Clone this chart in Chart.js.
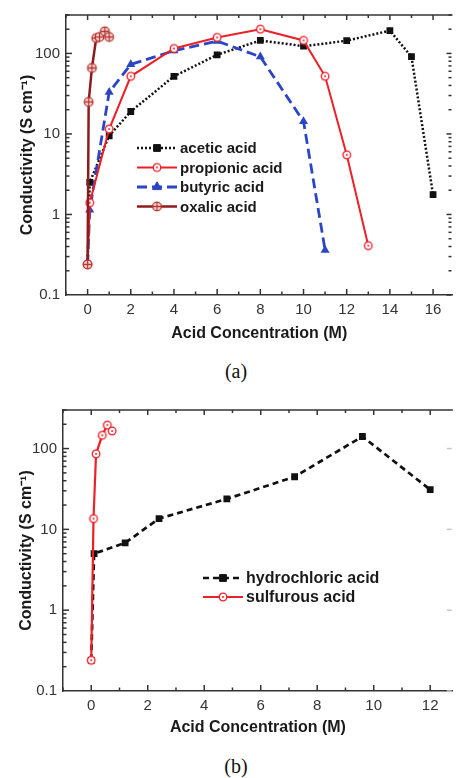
<!DOCTYPE html>
<html>
<head>
<meta charset="utf-8">
<script src="https://cdn.jsdelivr.net/npm/chart.js@4/dist/chart.umd.min.js"></script>
<style>
  html, body { margin: 0; padding: 0; background: #fff; width: 460px; height: 778px; overflow: hidden; position: relative; }
  canvas { position: absolute; left: 0; }
  #chartA { top: 0; }
  #chartB { top: 395px; }
  .cap { position: absolute; font-family: "Liberation Serif", "Times New Roman", serif; font-size: 20px; color: #111; transform: translate(-50%, -50%); }
</style>
</head>
<body>
<canvas id="chartA" width="460" height="345"></canvas>
<canvas id="chartB" width="460" height="350"></canvas>
<div class="cap" style="left:236px; top:371px;">(a)</div>
<div class="cap" style="left:236px; top:766px;">(b)</div>
<script>
// ---- (a) carboxylic / oxalic acids ----
const aceticX    = [0, 0.1, 1, 2, 4, 6, 8, 10, 12, 14, 15, 16];
const aceticY    = [0.24, 2.5, 9.5, 19, 52, 96, 145, 123, 144, 192, 91, 1.76];
const propionicX = [0, 0.1, 1, 2, 4, 6, 8, 10, 11, 12, 13];
const propionicY = [0.24, 1.4, 11.5, 52, 115, 158, 200, 145, 52, 5.5, 0.41];
const butyricX   = [0, 0.1, 1, 2, 4, 6, 8, 10, 11];
const butyricY   = [0.24, 1.14, 33, 73, 108, 142, 91, 14.3, 0.36];
const oxalicX    = [0, 0.05, 0.2, 0.4, 0.55, 0.8, 1.0];
const oxalicY    = [0.24, 25, 66, 155, 160, 188, 160];

// ---- (b) mineral acids ----
const hclX       = [0, 0.1, 1.2, 2.4, 4.8, 7.2, 9.6, 12];
const hclY       = [0.24, 5, 6.8, 13.6, 23.8, 44.8, 141, 31];
const sulfurousX = [0, 0.08, 0.17, 0.39, 0.57, 0.74];
const sulfurousY = [0.24, 13.6, 86, 146, 195, 165];

// ---- axis ticks ----
const xTicksA = [0, 2, 4, 6, 8, 10, 12, 14, 16];
const xTicksB = [0, 2, 4, 6, 8, 10, 12];
const yTicks  = [0.1, 1, 10, 100];

const FONT = '"Liberation Sans", Arial, Helvetica, sans-serif';
const RED = '#ec2027';
const BLUE = '#2b45c4';
const MAROON = '#8c1c1c';

function pts(xs, ys) { return xs.map((x, i) => ({ x: x, y: ys[i] })); }

// open circle with a centre dot, or a circle with a cross
function ringMarker(color, r, cross, fill) {
  const s = Math.ceil(r * 2 + 4);
  const c = document.createElement('canvas');
  c.width = c.height = s;
  const g = c.getContext('2d');
  const m = s / 2;
  g.fillStyle = fill || '#fff';
  g.strokeStyle = color;
  g.lineWidth = 1.3;
  g.beginPath(); g.arc(m, m, r, 0, Math.PI * 2); g.fill(); g.stroke();
  if (cross) {
    g.beginPath();
    g.moveTo(m - r, m); g.lineTo(m + r, m);
    g.moveTo(m, m - r); g.lineTo(m, m + r);
    g.stroke();
  } else {
    g.fillStyle = color;
    g.beginPath(); g.arc(m, m, 1, 0, Math.PI * 2); g.fill();
  }
  return c;
}

const redRing = ringMarker(RED, 3.8, false);
const oxRing = ringMarker('#b8342e', 4.3, true, '#f7e3e3');

// inward ticks on all sides plus the top frame line
const frameTicks = {
  id: 'frameTicks',
  afterDraw(chart, args, o) {
    const { ctx, chartArea: a, scales: { x, y } } = chart;
    ctx.save();
    ctx.strokeStyle = '#333';
    ctx.lineWidth = 1.5;
    const seg = (x1, y1, x2, y2) => { ctx.beginPath(); ctx.moveTo(x1, y1); ctx.lineTo(x2, y2); ctx.stroke(); };
    seg(a.left, a.top, a.right, a.top);
    const xt = o.xTicks;
    const step = xt[1] - xt[0];
    const xs = [];
    for (let v = xt[0] - step / 2; v <= x.max; v += step / 2) xs.push(v);
    xs.forEach(v => {
      if (v < x.min) return;
      const px = x.getPixelForValue(v);
      const major = xt.includes(v);
      const L = major ? 6 : 3.5;
      seg(px, a.bottom, px, a.bottom - L);
      seg(px, a.top, px, a.top + (major ? 5 : 3));
    });
    for (let d = 0.1; d < y.max; d *= 10) {
      for (let k = 1; k <= 9; k++) {
        const v = d * k;
        if (v < y.min || v > y.max) continue;
        const py = y.getPixelForValue(v);
        const L = k === 1 ? 6 : 3.5;
        if (!(k === 1 && Math.abs(v - y.min) < 1e-9)) seg(a.left, py, a.left + L, py);
        if (o.rightMinor || k === 1) {
          ctx.strokeStyle = o.rightColor;
          seg(a.right - 1, py, a.right - 1 - (k === 1 ? 5 : 3), py);
          ctx.strokeStyle = '#333';
        }
      }
    }
    ctx.restore();
  }
};

// legend: line sample with marker, then label
const lineLegend = {
  id: 'lineLegend',
  afterDraw(chart, args, o) {
    const ctx = chart.ctx;
    ctx.save();
    chart.data.datasets.forEach((ds, i) => {
      const yy = o.y + i * o.gap;
      ctx.strokeStyle = ds.borderColor;
      ctx.lineWidth = ds.borderWidth;
      ctx.setLineDash(ds.borderDash || []);
      ctx.beginPath(); ctx.moveTo(o.x, yy); ctx.lineTo(o.x + o.len, yy); ctx.stroke();
      ctx.setLineDash([]);
      const cx = o.x + o.len / 2;
      if (ds.pointStyle instanceof HTMLCanvasElement) {
        ctx.drawImage(ds.pointStyle, cx - ds.pointStyle.width / 2, yy - ds.pointStyle.height / 2);
      } else {
        ctx.fillStyle = ds.pointBackgroundColor;
        ctx.strokeStyle = ds.pointBorderColor;
        ctx.lineWidth = 1;
        Chart.helpers.drawPoint(ctx, { pointStyle: ds.pointStyle, radius: ds.pointRadius, rotation: 0, borderWidth: 1 }, cx, yy);
      }
      ctx.fillStyle = '#1a1a1a';
      ctx.font = 'bold ' + o.size + 'px ' + FONT;
      ctx.textBaseline = 'middle';
      ctx.textAlign = 'left';
      ctx.fillText(ds.label, o.x + o.len + 3, yy + 1);
    });
    ctx.restore();
  }
};

function scalesFor(xMin, xMax, xTicks, xH, yW, titlePadX, titlePadY) {
  return {
    x: {
      type: 'linear', min: xMin, max: xMax,
      afterBuildTicks: s => { s.ticks = xTicks.map(v => ({ value: v })); },
      afterFit: s => { s.height = xH; },
      grid: { display: false, drawTicks: false },
      border: { display: true, color: '#333', width: 1.5 },
      ticks: { padding: 6, color: '#333', font: { family: FONT, size: 15 }, callback: v => String(v) },
      title: { display: true, text: 'Acid Concentration (M)', color: '#1a1a1a',
               font: { family: FONT, size: 16, weight: 'bold' }, padding: { top: 0, bottom: titlePadX } }
    },
    y: {
      type: 'logarithmic', min: 0.1, max: 300,
      afterBuildTicks: s => { s.ticks = yTicks.map(v => ({ value: v })); },
      afterFit: s => { s.width = yW; },
      grid: { display: false, drawTicks: false },
      border: { display: true, color: '#333', width: 1.5 },
      ticks: { padding: 6, color: '#333', font: { family: FONT, size: 15 }, callback: v => String(v) },
      title: { display: true, text: 'Conductivity (S cm\u207B\u00B9)', color: '#1a1a1a',
               font: { family: FONT, size: 16, weight: 'bold' }, padding: { top: titlePadY, bottom: 0 } }
    }
  };
}

const common = {
  responsive: false, animation: false, devicePixelRatio: 1,
  plugins: { legend: { display: false }, tooltip: { enabled: false } }
};

new Chart(document.getElementById('chartA'), {
  type: 'line',
  data: {
    datasets: [
      { label: 'acetic acid', order: 3, data: pts(aceticX, aceticY), borderColor: '#111', borderWidth: 2.5, borderDash: [2, 2],
        pointStyle: 'rect', pointRadius: 4.8, pointBackgroundColor: '#111', pointBorderColor: '#111', pointBorderWidth: 0 },
      { label: 'propionic acid', order: 1, data: pts(propionicX, propionicY), borderColor: RED, borderWidth: 2,
        pointStyle: redRing, pointRadius: 5 },
      { label: 'butyric acid', order: 2, data: pts(butyricX, butyricY), borderColor: BLUE, borderWidth: 2.8, borderDash: [10, 5],
        pointStyle: 'triangle', pointRadius: 5.2, pointBackgroundColor: BLUE, pointBorderColor: BLUE, pointBorderWidth: 0 },
      { label: 'oxalic acid', order: 0, data: pts(oxalicX, oxalicY), borderColor: MAROON, borderWidth: 2.5,
        pointStyle: oxRing, pointRadius: 5 }
    ]
  },
  options: Object.assign({}, common, {
    layout: { padding: { top: 7, right: 0, bottom: 0, left: 0 } },
    scales: scalesFor(-1, 16.9, xTicksA, 50, 66, 2, 18),
    plugins: Object.assign({}, common.plugins, {
      frameTicks: { xTicks: xTicksA, rightMinor: true, rightColor: '#333' },
      lineLegend: { x: 137, y: 148, gap: 19.5, len: 40, size: 15 }
    })
  }),
  plugins: [frameTicks, lineLegend]
});

new Chart(document.getElementById('chartB'), {
  type: 'line',
  data: {
    datasets: [
      { label: 'hydrochloric acid', order: 1, data: pts(hclX, hclY), borderColor: '#111', borderWidth: 2.7, borderDash: [6, 4],
        pointStyle: 'rect', pointRadius: 4.8, pointBackgroundColor: '#111', pointBorderColor: '#111', pointBorderWidth: 0 },
      { label: 'sulfurous acid', order: 0, data: pts(sulfurousX, sulfurousY), borderColor: RED, borderWidth: 2.2,
        pointStyle: redRing, pointRadius: 5 }
    ]
  },
  options: Object.assign({}, common, {
    layout: { padding: { top: 7, right: 0, bottom: 0, left: 0 } },
    scales: scalesFor(-1, 12.8, xTicksB, 54, 63, 8, 17),
    plugins: Object.assign({}, common.plugins, {
      frameTicks: { xTicks: xTicksB, rightMinor: false, rightColor: '#c8c8c8' },
      lineLegend: { x: 203, y: 183, gap: 19, len: 40, size: 16 }
    })
  }),
  plugins: [frameTicks, lineLegend]
});
</script>
</body>
</html>
